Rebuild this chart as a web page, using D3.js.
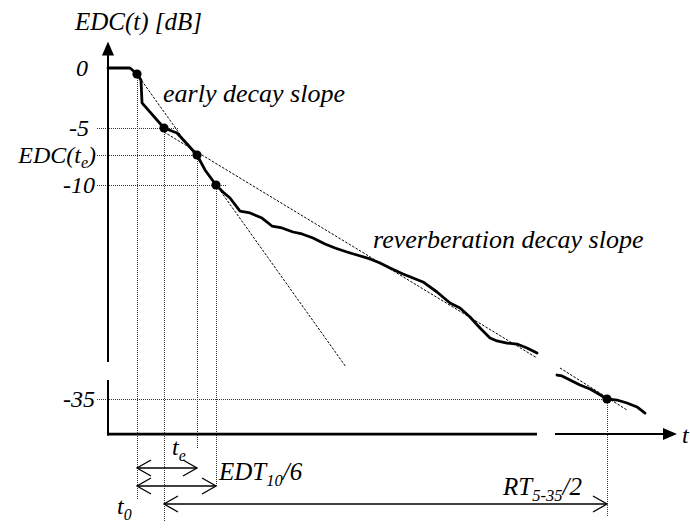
<!DOCTYPE html>
<html><head><meta charset="utf-8">
<script src="https://cdn.jsdelivr.net/npm/d3@7"></script>
<style>
html,body{margin:0;padding:0;background:#fff;}
svg{display:block;}
text{font-family:"Liberation Serif","Times New Roman",Times,"DejaVu Serif",serif;font-style:italic;fill:#000;}
</style></head><body>
<svg id="chart" width="690" height="528"></svg>
<script>
// ---------- data (time in ms, level in dB) ----------
const curveTime1 = [0,22,29,33,34,56,69,80,89,97,108,115,122,132,142,154,164,174,185,194,205,217,227,239,249,262,272,282,295,305,315,329,342,352,362,372,382,389,399,409,419,429];
const curveLevel1 = [0,0,-0.5,-1.0,-2.9,-5,-5.44,-6.49,-7.37,-8.68,-10,-10.82,-11.52,-13.04,-13.27,-13.86,-14.79,-15.02,-15.49,-15.72,-16.19,-16.89,-17.36,-17.83,-18.18,-18.64,-19.11,-19.70,-20.40,-20.86,-21.33,-22.50,-23.79,-24.37,-25.42,-26.71,-27.87,-28.22,-28.46,-28.58,-29.04,-29.63];
const curveTime2 = [449,454,462,472,482,489,499,509,519,529,537];
const curveLevel2 = [-32.20,-32.31,-32.78,-33.36,-33.83,-34.30,-35.0,-35.12,-35.47,-35.93,-36.64];

const keyNames  = ["t0","t5","te","t10","t35"];
const keyTimes  = [29, 56, 89, 108, 499];
const keyLevels = [-0.5, -5, -7.37, -10, -35];

const earlySlopeTime  = [29, 238];
const earlySlopeLevel = [-0.5, -31.26];
const reverbTime1  = [56, 429];
const reverbLevel1 = [-5.35, -30.21];
const reverbTime2  = [452, 519];
const reverbLevel2 = [-31.38, -36.29];

const tickValues = [0, -5, -7.37, -10, -35];
const tickLabels = ["0", "-5", "EDC(t_e)", "-10", "-35"];

const timeDomain = [0, 569];
const levelTop = 1.25, levelArrowTip = 2.2, levelFloor = -39.1;
const yBreak = [-30.68, -32.78];
const xBreak = [429, 447];

// ---------- layout ----------
const svg = d3.select("#chart");
const x = d3.scaleLinear().domain(timeDomain).range([108, 677]);
const y = d3.scaleLinear().domain([0, -5, -10, -35]).range([68, 128, 185, 399]);

const tickRight = [88, 89, 96, 95, 95];
const hGuideRight = [null, 178, 200, 227, 607];
const vGuideBottom = [499, 522, 449, 486, 517];
const guideLeft = 97;

const line = d3.line().x(d => x(d[0])).y(d => y(d[1]));
const zip = (a, b) => a.map((v, i) => [v, b[i]]);

// guides (dotted)
const guides = svg.append("g").attr("stroke", "#333").attr("stroke-width", 1).attr("stroke-dasharray", "1,1").attr("fill", "none");
keyTimes.forEach((t, i) => {
  const px = Math.round(x(t)) + 0.5;
  guides.append("line").attr("x1", px).attr("x2", px)
    .attr("y1", y(keyLevels[i])).attr("y2", vGuideBottom[i]);
  if (hGuideRight[i] !== null) {
    const py = Math.round(y(keyLevels[i])) + 0.5;
    guides.append("line").attr("x1", guideLeft).attr("x2", hGuideRight[i]).attr("y1", py).attr("y2", py);
  }
});

// slope lines (dashed)
const slopes = svg.append("g").attr("stroke", "#000").attr("stroke-width", 1).attr("stroke-dasharray", "2.5,1.5").attr("fill", "none");
slopes.append("path").attr("d", line(zip(earlySlopeTime, earlySlopeLevel)));
slopes.append("path").attr("d", line(zip(reverbTime1, reverbLevel1)));
slopes.append("path").attr("d", line(zip(reverbTime2, reverbLevel2)));

// EDC curve
const curveG = svg.append("g").attr("stroke", "#000").attr("stroke-width", 2.8).attr("fill", "none")
  .attr("stroke-linejoin", "round").attr("stroke-linecap", "round");
curveG.append("path").attr("d", line(zip(curveTime1, curveLevel1)));
curveG.append("path").attr("d", line(zip(curveTime2, curveLevel2)));

// key points
svg.append("g").selectAll("circle").data(zip(keyTimes, keyLevels)).join("circle")
  .attr("cx", d => x(d[0])).attr("cy", d => y(d[1])).attr("r", 4.6).attr("fill", "#000");

// axes
const ax = svg.append("g").attr("stroke", "#000").attr("fill", "none");
const x0 = x(0);
ax.append("line").attr("x1", x0).attr("x2", x0).attr("y1", y(levelTop)).attr("y2", y(yBreak[0])).attr("stroke-width", 2);
ax.append("line").attr("x1", x0).attr("x2", x0).attr("y1", y(yBreak[1])).attr("y2", y(levelFloor) + 1.4).attr("stroke-width", 2);
ax.append("line").attr("x1", x0 - 1).attr("x2", x(xBreak[0])).attr("y1", y(levelFloor)).attr("y2", y(levelFloor)).attr("stroke-width", 2.8);
ax.append("line").attr("x1", x(xBreak[1])).attr("x2", x(timeDomain[1]) - 10).attr("y1", y(levelFloor)).attr("y2", y(levelFloor)).attr("stroke-width", 2);
const tipY = y(levelArrowTip);
svg.append("path").attr("fill", "#000")
  .attr("d", `M${x0},${tipY} L${x0 - 6},${tipY + 14} L${x0 + 6},${tipY + 14} Z`);
const tipX = x(timeDomain[1]), fy = y(levelFloor);
svg.append("path").attr("fill", "#000")
  .attr("d", `M${tipX},${fy} L${tipX - 14},${fy - 6} L${tipX - 14},${fy + 6} Z`);

// y tick labels
const yAxis = d3.axisLeft(y).tickValues(tickValues).tickSize(0).tickPadding(0)
  .tickFormat((d, i) => tickLabels[i]);
const yg = svg.append("g").call(yAxis).attr("font-family", null).attr("font-size", null);
yg.select(".domain").remove();
yg.selectAll(".tick").each(function(d, i) {
  const g = d3.select(this);
  g.attr("transform", `translate(${tickRight[i]},${y(d)})`);
  const t = g.select("text").attr("font-size", 24)
    .attr("dy", "0.34em").attr("x", 0).attr("text-anchor", "end").attr("fill", "#000");
  const lbl = tickLabels[i];
  if (lbl.includes("_")) {
    const m = lbl.match(/^(.*)\(t_(\w)\)$/);
    t.text(null);
    t.append("tspan").text(m[1] + "(t");
    t.append("tspan").attr("font-size", 16).attr("dy", 5).text(m[2]);
    t.append("tspan").attr("dy", -5).text(")");
  }
});

// annotations
function label(px, py, parts, size) {
  const t = svg.append("text").attr("x", px).attr("y", py).attr("font-size", size);
  let shift = 0;
  parts.forEach(p => {
    const ts = t.append("tspan").text(p.s);
    const want = p.sub ? 6 : 0;
    if (want !== shift) { ts.attr("dy", want - shift); shift = want; }
    if (p.sub) ts.attr("font-size", size * 0.66);
  });
  return t;
}
label(75, 30, [{s: "EDC(t) [dB]"}], 25);
label(163, 102, [{s: "early decay slope"}], 26);
label(373, 248, [{s: "reverberation decay slope"}], 26);
label(682, 443, [{s: "t"}], 24);
label(172, 455, [{s: "t"}, {s: "e", sub: true}], 24);
label(219, 480, [{s: "EDT"}, {s: "10", sub: true}, {s: "/6"}], 25);
label(117, 514, [{s: "t"}, {s: "0", sub: true}], 24);
label(503, 495, [{s: "RT"}, {s: "5-35", sub: true}, {s: "/2"}], 25);

// double arrows
function dblArrow(t1, t2, py) {
  const a = x(t1), b = x(t2);
  const g = svg.append("g").attr("stroke", "#000").attr("stroke-width", 1.3).attr("fill", "none");
  g.append("line").attr("x1", a).attr("x2", b).attr("y1", py).attr("y2", py);
  g.append("path").attr("d", `M${a + 14},${py - 8} L${a},${py} L${a + 14},${py + 8}`);
  g.append("path").attr("d", `M${b - 14},${py - 8} L${b},${py} L${b - 14},${py + 8}`);
}
dblArrow(keyTimes[0], keyTimes[2], 468);
dblArrow(keyTimes[0], keyTimes[3], 486);
dblArrow(keyTimes[1], keyTimes[4], 504);
</script>
</body></html>
